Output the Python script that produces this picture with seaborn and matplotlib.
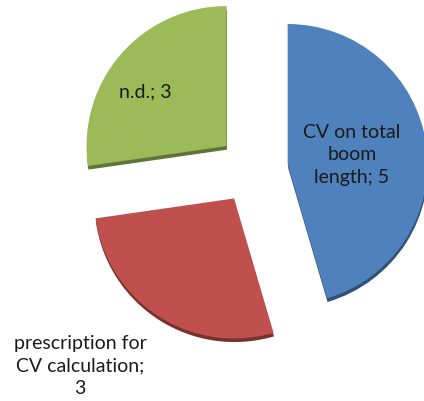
import matplotlib
matplotlib.use("Agg")
import matplotlib.pyplot as plt
import seaborn as sns

# data
valores = [5, 3, 3]
rotulos = ["CV on total\nboom\nlength; 5", "prescription for\nCV calculation;\n3", "n.d.; 3"]
cores = ["#4F81BD", "#C0504D", "#9BBB59"]

sns.set_style("white")
plt.rcParams['font.family'] = ['Lato', 'DejaVu Sans']

fig = plt.figure(figsize=(4.24, 4.02), dpi=100)
ax = fig.add_axes([0, 0, 1, 1])

# pie in pixel-like data units (y up)
centro = (253, 402 - 170)
raio = 140
afastamento = 35

fatias, textos = ax.pie(
    valores,
    labels=rotulos,
    colors=cores,
    startangle=90,
    counterclock=False,
    center=centro,
    radius=raio,
    explode=[afastamento] * len(valores),
    labeldistance=0.5,
    shadow={'ox': 0.3, 'oy': -2.6, 'shade': 0.38, 'alpha': 1},
    wedgeprops={'linewidth': 0},
    textprops={'fontsize': 14, 'color': '#1a1a1a', 'ha': 'center', 'va': 'center',
               'linespacing': 1.42},
)

# label placement like the original (Excel best fit)
posicoes = [(352, 402 - 155), (80, 402 - 366), (145, 402 - 92)]
for t, p in zip(textos, posicoes):
    t.set_position(p)
    t.set_ha('center')
    t.set_va('center')

ax.set_xlim(0, 424)
ax.set_ylim(0, 402)
ax.set_aspect('equal')
ax.axis('off')

fig.savefig("out.png", dpi=100, facecolor="white")
